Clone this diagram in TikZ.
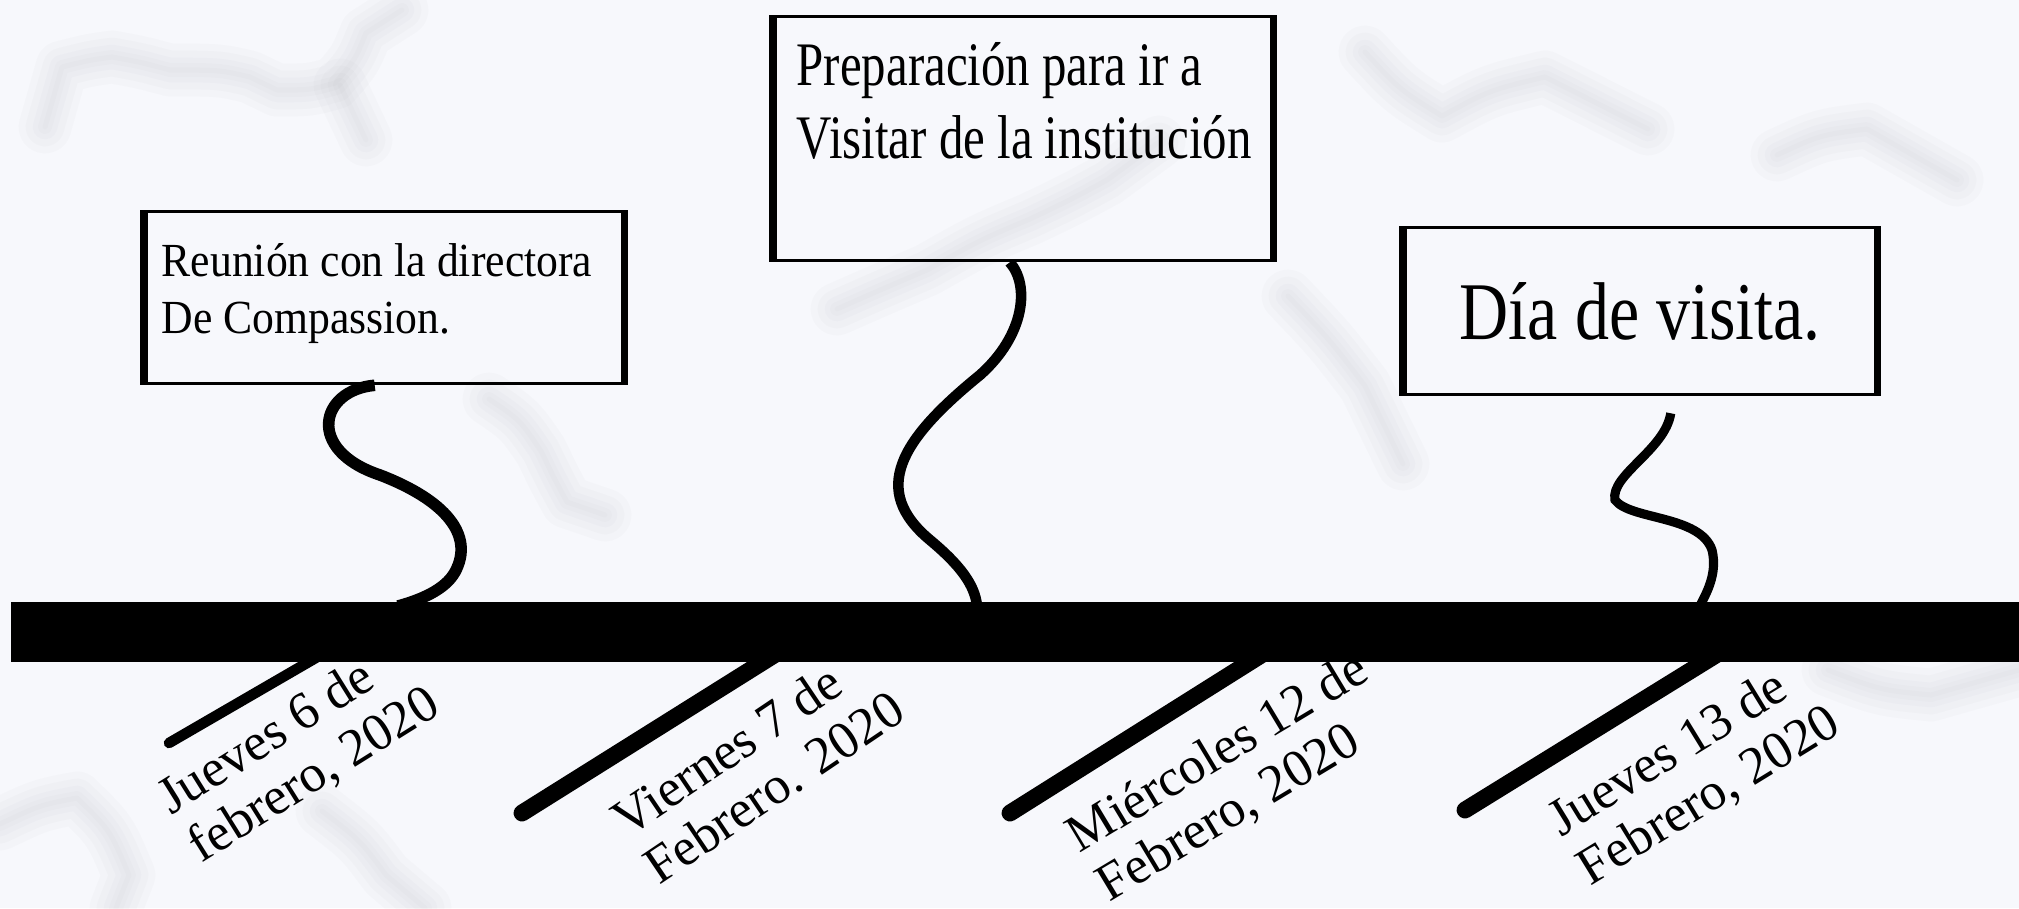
\documentclass[tikz,border=0pt]{standalone}
\usepackage{fontspec}
\setmainfont{Liberation Serif}
\newfontfamily\fuenteuno[FakeStretch=0.92]{Liberation Serif}
\newfontfamily\fuentedos[FakeStretch=0.79]{Liberation Serif}
\newfontfamily\fuentetres[FakeStretch=0.83]{Liberation Serif}
\usetikzlibrary{positioning,calc}
\definecolor{marmol}{RGB}{247,248,252}
\definecolor{vetagris}{RGB}{110,112,120}

\begin{document}
\begin{tikzpicture}[x=0.01cm, y=-0.01cm,
    caja/.style={draw, line width=0.9pt, inner sep=0pt, anchor=north west},
    lado/.style={line width=2.2pt},
    rizo/.style={line width=3.3pt},
    marca/.style={line width=4.8pt, line cap=round},
    fecha/.style={anchor=north west, inner sep=0pt, align=left, font=\fontsize{15}{16.2}\selectfont},
    veta/.style={draw=vetagris, line cap=round, line join=round, opacity=0.025}]

    % fondo de marmol
    \fill[marmol] (0,0) rectangle (2019,908);
    \useasboundingbox (0,0) rectangle (2019,908);
    \foreach \w in {1.5,4,7,11,15} {
        \draw[veta, line width=\w pt] (45,127) -- (62,67) .. controls (90,60) .. (112,57) .. controls (140,62) .. (170,70) .. controls (220,70) .. (250,77) -- (277,90) .. controls (310,90) .. (335,83) .. controls (355,60) .. (366,33) -- (402,10);
        \draw[veta, line width=\w pt] (340,85) -- (366,140);
        \draw[veta, line width=\w pt] (489,399) .. controls (520,420) .. (541,451) .. controls (555,480) .. (567,502) -- (605,515);
        \draw[veta, line width=\w pt] (837,309) .. controls (880,290) .. (927,270) .. controls (980,240) .. (1030,219) .. controls (1070,200) .. (1107,180) -- (1159,142);
        \draw[veta, line width=\w pt] (1365,52) .. controls (1400,90) .. (1442,116) .. controls (1490,90) .. (1545,77) -- (1648,129);
        \draw[veta, line width=\w pt] (1777,155) .. controls (1820,135) .. (1867,129) -- (1957,180);
        \draw[veta, line width=\w pt] (0,824) .. controls (40,805) .. (77,798) .. controls (110,830) .. (129,875) -- (116,908);
        \draw[veta, line width=\w pt] (322,811) .. controls (360,840) .. (386,875) -- (425,908);
        \draw[veta, line width=\w pt] (1828,670) .. controls (1880,690) .. (1931,695) -- (2019,670);
        \draw[veta, line width=\w pt] (1288,296) .. controls (1330,340) .. (1365,386) -- (1403,464);
    }

    % cajas
    \node[caja, minimum width=4.77cm, minimum height=1.72cm] (caja1) at (144,210) {};
    \node[caja, minimum width=4.97cm, minimum height=2.44cm] (caja2) at (773,15) {};
    \node[caja, minimum width=4.71cm, minimum height=1.67cm,
          font=\fuentetres\fontsize{23.3}{28}\selectfont] (caja3) at (1403,226) {Día de visita.};
    \foreach \c in {caja1,caja2,caja3}
        \draw[lado] (\c.north west) -- (\c.south west) (\c.north east) -- (\c.south east);

    \node[below right=0.33cm and 0.17cm of caja1.north west, inner sep=0pt, align=left,
          font=\fuenteuno\fontsize{13.5}{16.2}\selectfont] (texto1) {Reunión con la directora\\De Compassion.};
    \node[below right=0.27cm and 0.23cm of caja2.north west, inner sep=0pt, align=left,
          font=\fuentedos\fontsize{17.6}{20.8}\selectfont] (texto2) {Preparación para ir a\\Visitar de la institución};

    % marcas de las fechas
    \draw[marca, line width=3pt] (338,645) -- (169,743);
    \draw[marca] (790,645) -- (522,813);
    \draw[marca] (1277,645) -- (1010,813);
    \draw[marca] (1732,645) -- (1465,810);

    % rizos hacia la linea
    \coordinate (fin1) at (398,606);
    \coordinate (fin2) at (977,606);
    \coordinate (fin3) at (1700,606);
    \coordinate (ini3) at ([xshift=0.305cm, yshift=-0.17cm]caja3.south);
    \draw[rizo] ([xshift=-0.095cm]caja1.south) .. controls (320,390) and (305,450) .. (380,475)
        .. controls (445,500) and (475,535) .. (455,572) .. controls (445,590) and (420,600) .. (fin1);
    \draw[rizo, line width=3pt] ([xshift=-0.135cm]caja2.south) .. controls (1030,285) and (1025,335) .. (980,375)
        .. controls (900,440) and (870,490) .. (930,540) .. controls (960,565) and (975,585) .. (fin2);
    \draw[rizo, line width=2.6pt] (ini3) .. controls (1665,450) and (1610,475) .. (1615,500)
        .. controls (1630,520) and (1700,515) .. (1712,550) .. controls (1718,575) and (1705,595) .. (fin3);

    % linea del tiempo
    \node[fill, minimum width=20.09cm, minimum height=0.6cm, inner sep=0pt, anchor=north west] (eje) at (10,601) {};

    % fechas
    \node[fecha, rotate=32] (fecha1) at (151,784) {Jueves 6 de\\febrero, 2020};
    \node[fecha, rotate=34] (fecha2) at (606,808) {Viernes 7 de\\Febrero. 2020};
    \node[fecha, rotate=31] (fecha3) at (1060,822) {Miércoles 12 de\\Febrero, 2020};
    \node[fecha, rotate=31.5] (fecha4) at (1541,806) {Jueves 13 de\\Febrero, 2020};
\end{tikzpicture}
\end{document}
